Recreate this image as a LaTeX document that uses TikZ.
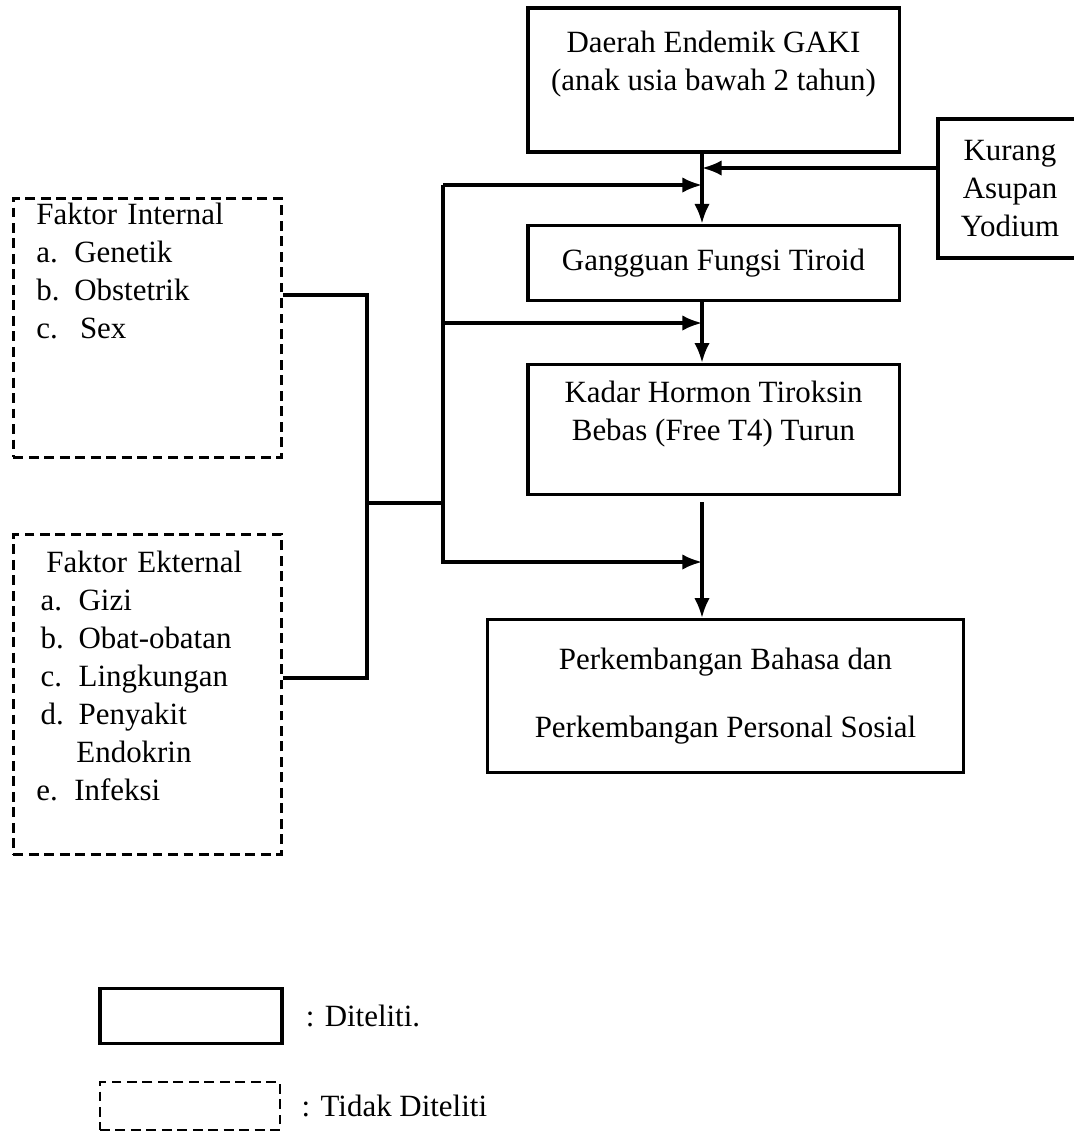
\documentclass[tikz,border=0pt]{standalone}
\usepackage{fontspec}
\setmainfont{Liberation Serif}
\usetikzlibrary{arrows.meta, positioning}
\newcommand{\li}[1]{\makebox[0.95cm][l]{#1}}

\begin{document}
\begin{tikzpicture}[x=0.025cm, y=-0.025cm,
  font=\fontsize{22}{27}\selectfont,
  basic/.style   = {draw, line width=2.2pt, align=center, inner sep=2pt},
  mainbox/.style = {basic, minimum width=9.275cm},
  dashbox/.style = {basic, line width=2pt, dash pattern=on 7pt off 4pt, align=left,
                    anchor=north west, text width=5.55cm, inner xsep=0.575cm, minimum width=6.7cm},
  legtext/.style = {inner sep=0pt, anchor=west},
  link/.style    = {line width=2.2pt},
  >={Latex[length=14pt,width=11pt]}]

\useasboundingbox (0,0) rectangle (1073,1132);

% main column, the boxes that are studied
\node[mainbox, minimum height=3.6cm] (daerah) at (713.5,80) {Daerah Endemik GAKI\\(anak usia bawah 2 tahun)\\~};
\node[mainbox, minimum height=1.875cm, below=1.75cm of daerah] (gangguan) {Gangguan Fungsi Tiroid};
\node[mainbox, minimum height=3.25cm, below=1.525cm of gangguan] (kadar) {Kadar Hormon Tiroksin\\Bebas (Free T4) Turun\\~};
\node[basic, minimum width=11.9cm, minimum height=3.825cm, below=3.05cm of kadar, xshift=0.3cm] (perkembangan)
  {Perkembangan Bahasa dan\\[0.75cm]Perkembangan Personal Sosial};
\node[basic, minimum width=3.6cm, minimum height=3.475cm] (kurang) at (1010,188.5) {Kurang\\Asupan\\Yodium};

% factors that are not studied
\node[dashbox, minimum height=6.475cm] (internal) at (12,197)
  {Faktor Internal\\\li{a.}Genetik\\\li{b.}Obstetrik\\\li{c.}\hspace{4pt}Sex\\~\\~\\~};
\node[dashbox, minimum height=8cm] (eksternal) at (12,533)
  {\hspace{0.25cm}Faktor Ekternal\\\hspace{3pt}\li{a.}Gizi\\\hspace{3pt}\li{b.}Obat-obatan\\\hspace{3pt}\li{c.}Lingkungan\\
   \hspace{3pt}\li{d.}Penyakit\\\hspace{1cm}Endokrin\\\li{e.}Infeksi\\~};

% legend
\node[basic, minimum width=4.55cm, minimum height=1.375cm] (legd1) at (191,1016) {};
\node[basic, line width=2pt, dash pattern=on 7pt off 4pt, minimum width=4.5cm, minimum height=1.2cm] (legd2) at (190,1106) {};
\node[legtext, right=0.55cm of legd1] (legt1) {: Diteliti.};
\node[legtext, right=0.5cm of legd2] (legt2) {: Tidak Diteliti};

% points on the connector lines
\coordinate (spine) at (702,0);
\coordinate (kin) at (702,168);
\coordinate (spine low) at (702,502);
\coordinate (busL top) at (367,295);
\coordinate (busL mid) at (367,503);
\coordinate (busL bot) at (367,678);
\coordinate (busR top) at (443,185);
\coordinate (busR mid) at (443,323);
\coordinate (busR bot) at (443,562);

% arrows down the main column
\draw[link, ->] (daerah.south -| spine) -- (gangguan.north -| spine);
\draw[link, ->] (gangguan.south -| spine) -- (kadar.north -| spine);
\draw[link, ->] (spine low) -- (perkembangan.north -| spine);
\draw[link, ->] (kurang.west |- kin) -- (kin);

% lines from the two factor boxes
\draw[link] (internal.east |- busL top) -- (busL top) -- (busL bot) -- (eksternal.east |- busL bot);
\draw[link] (busL mid) -- (busL mid -| busR top);
\draw[link, ->] (busR top) -- (busR top -| spine);
\draw[link, ->] (busR mid) -- (busR mid -| spine);
\draw[link, ->] (busR top) -- (busR bot) -- (busR bot -| spine);

\end{tikzpicture}
\end{document}
